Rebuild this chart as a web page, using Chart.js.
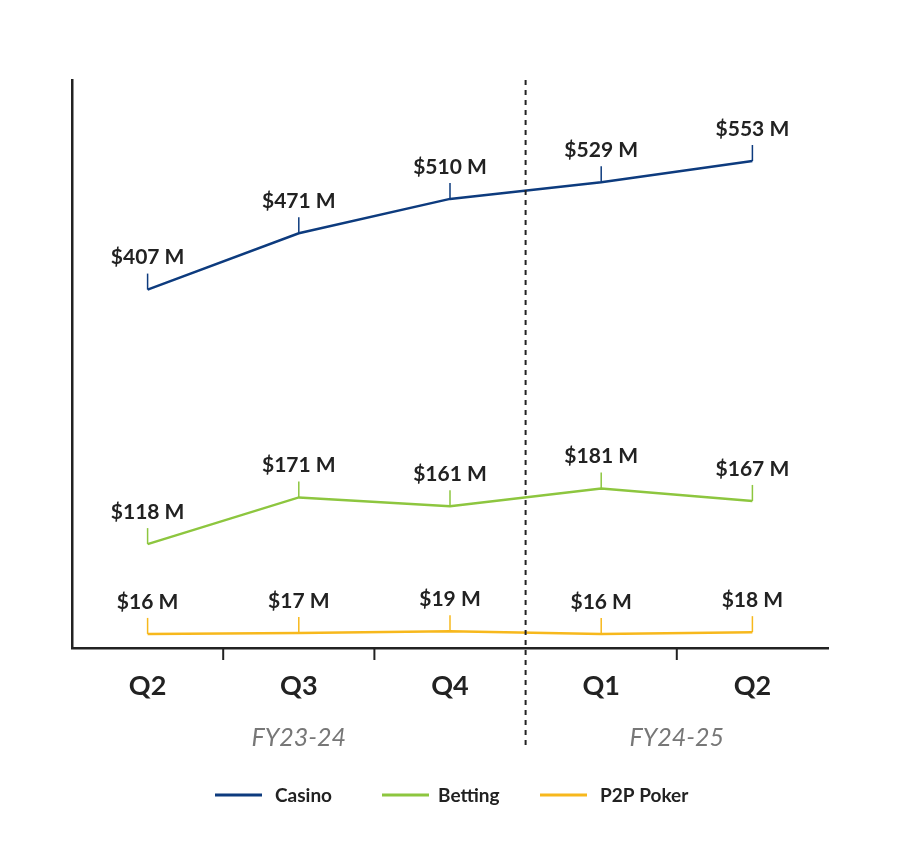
<!DOCTYPE html>
<html><head><meta charset="utf-8">
<script src="https://cdn.jsdelivr.net/npm/chart.js@4"></script>
<style>html,body{margin:0;padding:0;background:#fff}#w{width:900px;height:849px}</style>
</head><body><div id="w"><canvas id="c"></canvas></div>
<script>
const categories = ["Q2","Q3","Q4","Q1","Q2"];
const fiscalYears = ["FY23-24","FY24-25"];
const casino = [407,471,510,529,553];
const betting = [118,171,161,181,167];
const poker = [16,17,19,16,18];
const seriesNames = ["Casino","Betting","P2P Poker"];
const colors = ["#0d3b7e","#8dc63f","#f7b81c"];
const FONT = "Lato, 'Open Sans', sans-serif";

const overlay = {
  id:"overlay",
  afterDatasetsDraw(chart){
    const ctx = chart.ctx, x = chart.scales.x, a = chart.chartArea;
    ctx.save();
    // tick marks between categories
    ctx.strokeStyle="#222"; ctx.lineWidth=2;
    for(let i=1;i<categories.length;i++){
      if(i===3) continue;
      const px=(x.getPixelForValue(i-1)+x.getPixelForValue(i))/2;
      ctx.beginPath(); ctx.moveTo(px,a.bottom); ctx.lineTo(px,a.bottom+12); ctx.stroke();
    }
    // dashed divider
    const dx=(x.getPixelForValue(2)+x.getPixelForValue(3))/2;
    ctx.setLineDash([5,5]); ctx.lineWidth=2;
    ctx.beginPath(); ctx.moveTo(dx,a.top); ctx.lineTo(dx,748); ctx.stroke();
    ctx.setLineDash([]);
    // FY labels
    ctx.fillStyle="#777"; ctx.font="italic 25px "+FONT; ctx.textAlign="center"; ctx.textBaseline="middle";
    ctx.fillText(fiscalYears[0], x.getPixelForValue(1), 738);
    ctx.fillText(fiscalYears[1], (x.getPixelForValue(3)+x.getPixelForValue(4))/2, 738);
    // data labels
    chart.data.datasets.forEach((ds,di)=>{
      const meta=chart.getDatasetMeta(di);
      meta.data.forEach((pt,i)=>{
        ctx.strokeStyle=colors[di]; ctx.lineWidth=1.5;
        ctx.beginPath(); ctx.moveTo(pt.x,pt.y); ctx.lineTo(pt.x,pt.y-16); ctx.stroke();
        ctx.fillStyle="#222"; ctx.font="bold 21px "+FONT;
        ctx.fillText("$"+ds.data[i]+" M", pt.x, pt.y-32);
      });
    });
    // legend
    const leg=[[215,275],[382,438],[540,600]];
    ctx.textAlign="left"; ctx.font="bold 19px "+FONT;
    leg.forEach((l,i)=>{
      ctx.strokeStyle=colors[i]; ctx.lineWidth=3;
      ctx.beginPath(); ctx.moveTo(l[0],795); ctx.lineTo(l[0]+47,795); ctx.stroke();
      ctx.fillStyle="#222"; ctx.fillText(seriesNames[i], l[1], 796);
    });
    ctx.restore();
  }
};

new Chart(document.getElementById("c"),{
  type:"line",
  data:{labels:categories,datasets:[casino,betting,poker].map((d,i)=>({
    label:seriesNames[i],data:d,borderColor:colors[i],borderWidth:2.5,pointRadius:0,tension:0,fill:false}))},
  options:{
    responsive:true,maintainAspectRatio:false,animation:false,
    layout:{padding:{left:72,right:72,top:80,bottom:0}},
    plugins:{legend:{display:false},tooltip:{enabled:false}},
    scales:{
      x:{offset:true,grid:{display:false},border:{display:true,color:"#222",width:2.5},
        ticks:{color:"#222",font:{family:FONT,size:27,weight:"bold"},padding:14},
        afterFit(s){s.height=201;}},
      y:{min:0,max:645,grid:{display:false},border:{display:true,color:"#222",width:2.5},
        ticks:{display:false},afterFit(s){s.width=0;}}
    }
  },
  plugins:[overlay]
});
</script></body></html>
